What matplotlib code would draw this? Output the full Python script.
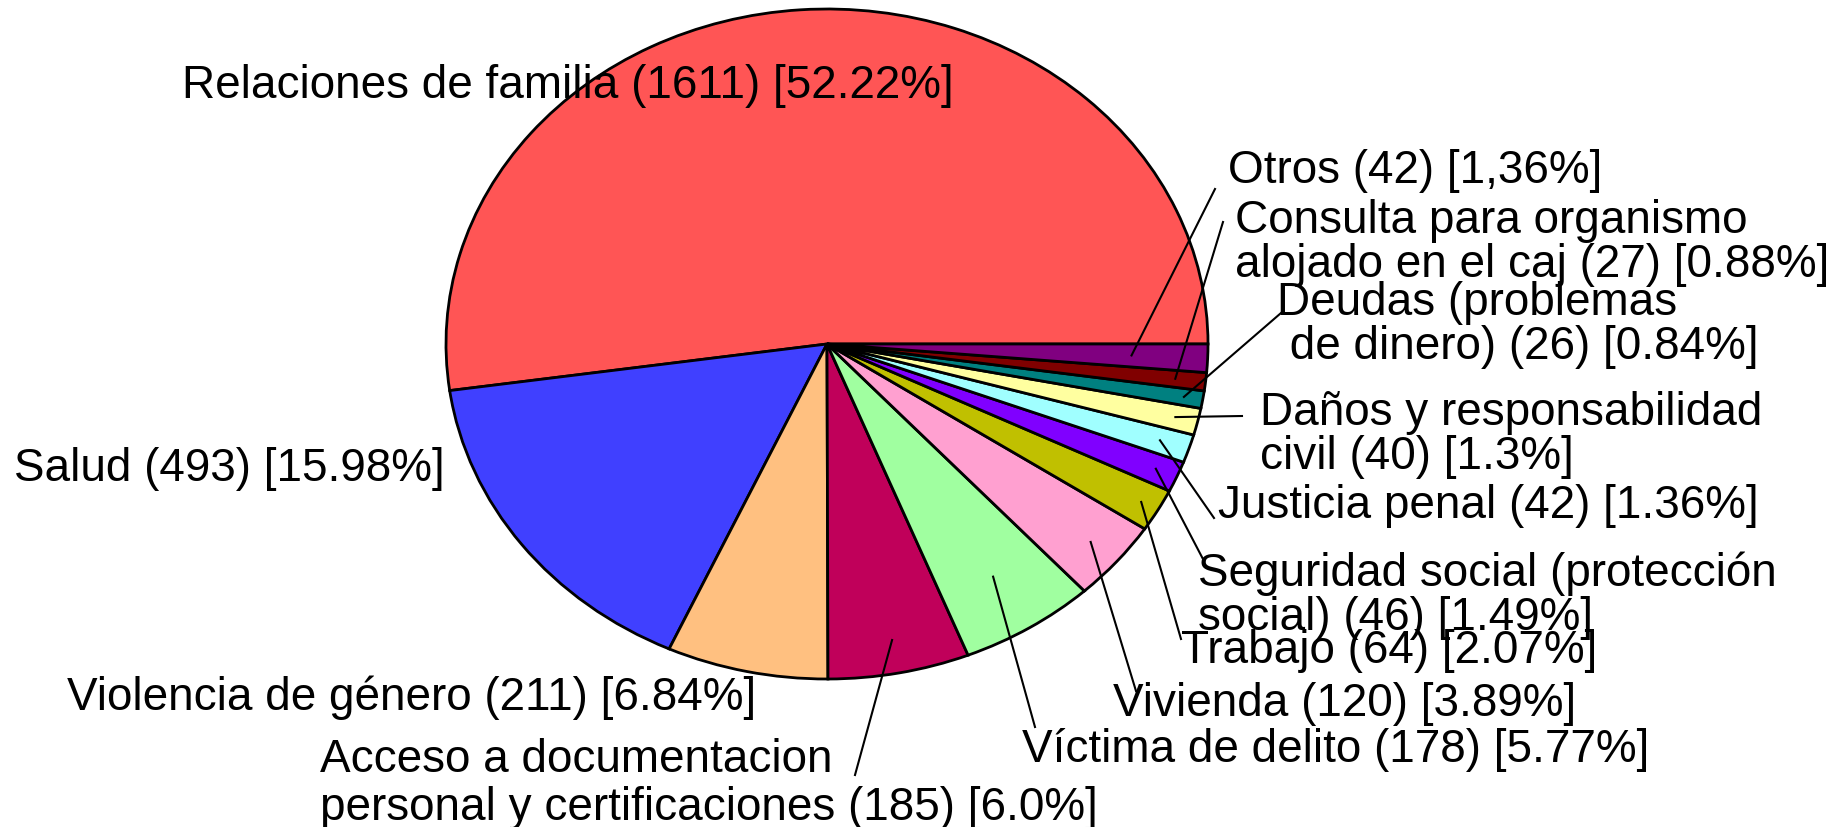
import matplotlib
matplotlib.use("Agg")
import matplotlib.pyplot as plt
import numpy as np

# ---- data ----
categories = [
    "Relaciones de familia", "Salud", "Violencia de género",
    "Acceso a documentacion\npersonal y certificaciones", "Víctima de delito",
    "Vivienda", "Trabajo", "Seguridad social (protección\nsocial)",
    "Justicia penal", "Daños y responsabilidad\ncivil",
    "Deudas (problemas\n de dinero)", "Consulta para organismo\nalojado en el caj", "Otros",
]
counts = [1611, 493, 211, 185, 178, 120, 64, 46, 42, 40, 26, 27, 42]
pct_labels = ["52.22%", "15.98%", "6.84%", "6.0%", "5.77%", "3.89%", "2.07%",
              "1.49%", "1.36%", "1.3%", "0.84%", "0.88%", "1,36%"]
colors = ["#FF5555", "#4040FF", "#FFC080", "#C0005A", "#A0FFA0", "#FFA0D0",
          "#C0C000", "#8000FF", "#A0FFFF", "#FFFFA0", "#008080", "#800000", "#800080"]

# ---- layout (pixel coords, top-left origin) ----
W, H = 1846, 828
CX, CY, RX, RY = 827, 345, 381, 335
label_pos = [(182, 86), (14, 469), (67, 698), (320, 784), (1022, 750), (1113, 704),
             (1181, 651), (1198, 596), (1218, 506), (1260, 435), (1277, 325),
             (1235, 243), (1228, 171)]
label_ls = [1.0, 1.0, 1.0, 1.12, 1.0, 1.0, 1.0, 1.0, 1.0, 1.0, 1.0, 1.0, 1.0]
leader_end = [None, None, None, (855, 776), (1035, 728), (1136, 692), (1181, 640),
              (1204, 562), (1214, 519), (1242, 417), (1281, 314), (1223, 223), (1215, 190)]
leader_frac = [0, 0, 0, 0.9, 0.82, 0.91, 0.95, 0.94, 0.92, 0.94, 0.95, 0.92, 0.8]

fig = plt.figure(figsize=(W / 100, H / 100), dpi=100)
ax = fig.add_axes([0, 0, 1, 1])
ax.pie(counts, colors=colors, startangle=0, counterclock=True, radius=1, center=(0, 0),
       wedgeprops=dict(edgecolor="black", linewidth=2.0), frame=True)
ax.set_aspect("auto")
ax.set_xlim(-CX / RX, (W - CX) / RX)
ax.set_ylim(-(H - CY) / RY, CY / RY)
ax.axis("off")


def to_data(px, py):
    return (px - CX) / RX, (CY - py) / RY


total = sum(counts)
cum = np.cumsum([0] + counts)
for i, (cat, n, p) in enumerate(zip(categories, counts, pct_labels)):
    text = f"{cat} ({n}) [{p}]"
    lx, ly = to_data(*label_pos[i])
    ax.text(lx, ly, text, ha="left", va="center", fontsize=33,
            family=["Liberation Sans", "DejaVu Sans"], linespacing=label_ls[i], color="black")
    if leader_end[i] is not None:
        mid = np.deg2rad((cum[i] + cum[i + 1]) / 2 / total * 360)
        f = leader_frac[i]
        sx, sy = f * np.cos(mid), f * np.sin(mid)
        ex, ey = to_data(*leader_end[i])
        ax.plot([sx, ex], [sy, ey], color="black", lw=1.5)

fig.savefig("out.png", dpi=100)
